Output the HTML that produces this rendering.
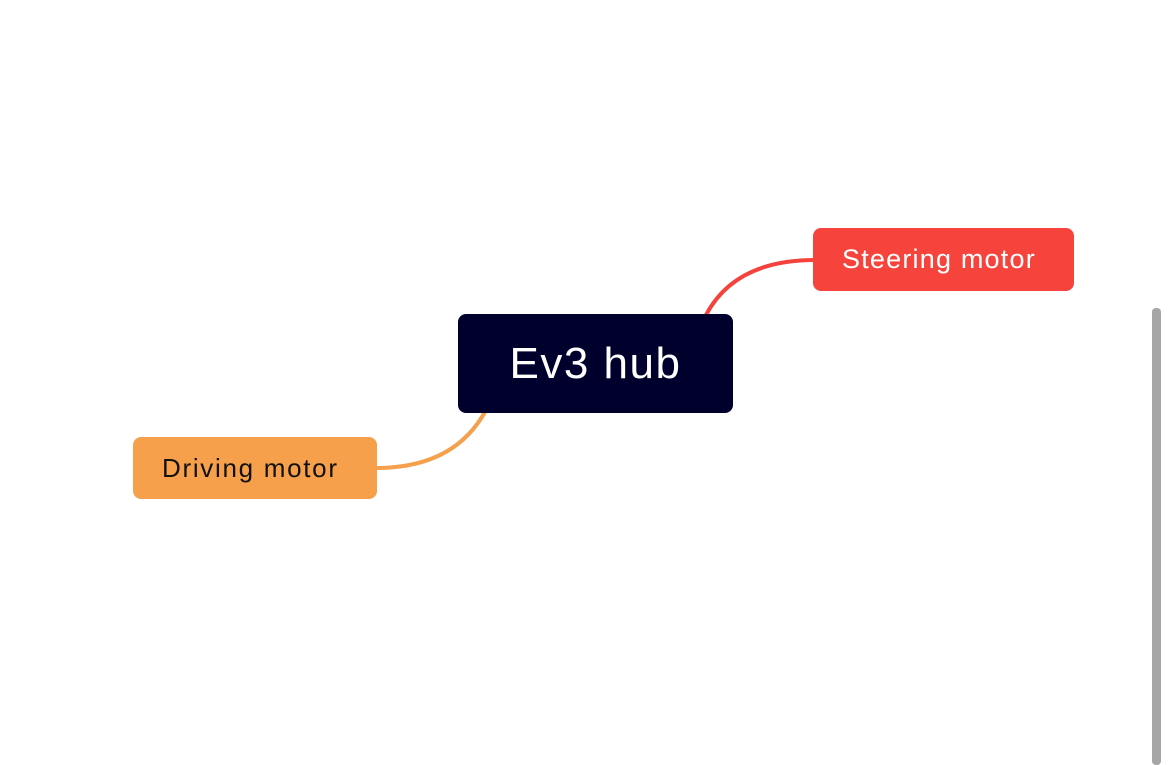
<!DOCTYPE html>
<html><head><style>
html,body{margin:0;padding:0;width:1170px;height:765px;background:#fff;overflow:hidden;position:relative;font-family:"Liberation Sans",sans-serif}
.n{position:absolute;display:flex;align-items:center;justify-content:center;border-radius:8px}
</style></head><body>
<svg width="1170" height="765" style="position:absolute;left:0;top:0">
<path d="M706 315 Q735 260 815 260" stroke="#f4433c" stroke-width="4" fill="none"/>
<path d="M486 410 Q455 468 376 468" stroke="#f5a04c" stroke-width="4" fill="none"/>
<rect x="1152" y="308" width="9" height="457" rx="4" fill="#a6a6a6"/>
</svg>
<div class="n" style="left:458px;top:314px;width:275px;height:99px;background:#00002c;color:#fff;font-size:44px;letter-spacing:1.5px">Ev3 hub</div>
<div class="n" style="left:813px;top:228px;width:261px;height:63px;background:#f6443d;color:#fff;font-size:27px;letter-spacing:1.2px;justify-content:flex-start;padding-left:29px;box-sizing:border-box">Steering motor</div>
<div class="n" style="left:133px;top:437px;width:244px;height:62px;background:#f6a04c;color:#111;font-size:26px;letter-spacing:1.7px;justify-content:flex-start;padding-left:29px;box-sizing:border-box">Driving motor</div>
</body></html>
